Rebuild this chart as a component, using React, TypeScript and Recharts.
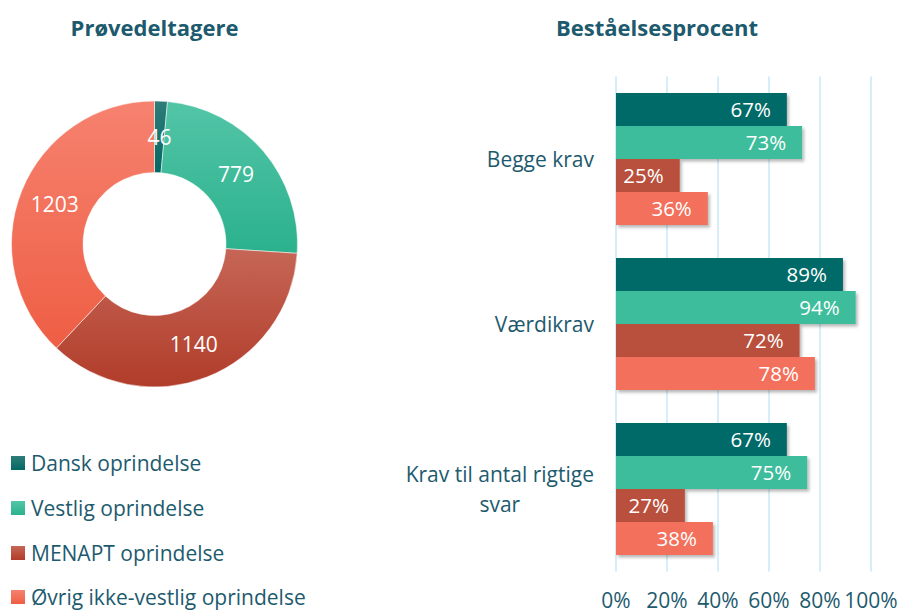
import { Bar, BarChart, CartesianGrid, Cell, LabelList, Pie, PieChart, XAxis, YAxis } from 'recharts';

// Prøvedeltagere (donut)
const origins = ['Dansk oprindelse', 'Vestlig oprindelse', 'MENAPT oprindelse', 'Øvrig ikke-vestlig oprindelse'];
const participants = [46, 779, 1140, 1203];

// Beståelsesprocent (bars)
const requirements = ['Begge krav', 'Værdikrav', 'Krav til antal rigtige svar'];
const danskPct = [67, 89, 67];
const vestligPct = [73, 94, 75];
const menaptPct = [25, 72, 27];
const ovrigPct = [36, 78, 38];
const pctTicks = [0, 20, 40, 60, 80, 100];

const colors = ['#056b67', '#3cbd9b', '#b9503e', '#f3705c'];
const gradTop = ['#2f7d79', '#53c5a7', '#c66656', '#f6826f'];
const gradBottom = ['#036864', '#2bb18d', '#b13c2a', '#ee5e44'];

const textColor = '#1d5a6e';
const font = '"Open Sans", sans-serif';
const fs = 21;

const pieData = origins.map((name, i) => ({ name, value: participants[i] }));
const barData = requirements.map((name, i) => ({
  name,
  dansk: danskPct[i],
  vestlig: vestligPct[i],
  menapt: menaptPct[i],
  ovrig: ovrigPct[i],
}));

const RADIAN = Math.PI / 180;

function PieLabel(props: any) {
  const { cx, cy, midAngle, innerRadius, outerRadius, value } = props;
  const r = (innerRadius + outerRadius) / 2;
  const x = cx + r * Math.cos(-midAngle * RADIAN);
  const y = cy + r * Math.sin(-midAngle * RADIAN);
  return (
    <text x={x} y={y} fill="#fff" fontSize={fs} fontFamily={font} textAnchor="middle" dominantBaseline="central">
      {value}
    </text>
  );
}

let measureCtx: CanvasRenderingContext2D | null = null;
function textWidth(s: string, size: number) {
  if (!measureCtx) measureCtx = document.createElement('canvas').getContext('2d');
  if (!measureCtx) return s.length * size * 0.5;
  measureCtx.font = `${size}px "Open Sans"`;
  return measureCtx.measureText(s).width;
}

function wrap(label: string, maxChars: number) {
  const words = label.split(' ');
  const lines: string[] = [];
  let cur = '';
  for (const w of words) {
    const next = cur ? `${cur} ${w}` : w;
    if (next.length > maxChars && cur) {
      lines.push(cur);
      cur = w;
    } else cur = next;
  }
  if (cur) lines.push(cur);
  return lines;
}

function CategoryTick({ x, y, payload }: any) {
  const lines = wrap(String(payload?.value ?? ''), 22);
  const lineH = 30;
  const blockW = Math.max(...lines.map((l) => textWidth(l, fs)));
  const centerX = x - blockW / 2;
  const y0 = y - ((lines.length - 1) * lineH) / 2;
  return (
    <g>
      {lines.map((l, i) => (
        <text
          key={i}
          x={lines.length > 1 ? centerX : x}
          y={y0 + i * lineH}
          textAnchor={lines.length > 1 ? 'middle' : 'end'}
          dominantBaseline="central"
          fill={textColor}
          fontSize={fs}
          fontFamily={font}
        >
          {l}
        </text>
      ))}
    </g>
  );
}

function PctTick({ x, y, payload }: any) {
  return (
    <text x={x} y={y + 20} textAnchor="middle" dominantBaseline="central" fill={textColor} fontSize={fs} fontFamily={font}>
      {`${payload.value}%`}
    </text>
  );
}

function OriginLegend() {
  return (
    <div style={{ fontFamily: font, fontSize: fs, color: textColor }}>
      {origins.map((o, i) => (
        <div key={o} style={{ display: 'flex', alignItems: 'center', height: 44.7, whiteSpace: 'nowrap' }}>
          <span
            style={{
              display: 'inline-block',
              width: 14,
              height: 14,
              marginRight: 6,
              background: `linear-gradient(${gradTop[i]}, ${gradBottom[i]})`,
            }}
          />
          {o}
        </div>
      ))}
    </div>
  );
}

const titleStyle: React.CSSProperties = {
  position: 'absolute',
  top: 12,
  fontFamily: font,
  fontWeight: 700,
  fontSize: 22,
  color: textColor,
  textAlign: 'center',
};

export default function App() {
  return (
    <div style={{ position: 'absolute', left: 0, top: 0, width: 899, height: 610, background: '#fff', overflow: 'hidden' }}>
      <div style={{ ...titleStyle, left: 0, width: 309 }}>Prøvedeltagere</div>
      <div style={{ ...titleStyle, left: 520, width: 274 }}>Beståelsesprocent</div>

      <div style={{ position: 'absolute', left: 0, top: 0 }}>
        <PieChart width={320} height={400} margin={{ top: 0, right: 0, bottom: 0, left: 0 }}>
          <defs>
            {colors.map((c, i) => (
              <linearGradient key={c} id={`pg${i}`} x1="0" y1="0" x2="0" y2="1">
                <stop offset="0%" stopColor={gradTop[i]} />
                <stop offset="100%" stopColor={gradBottom[i]} />
              </linearGradient>
            ))}
          </defs>
          <Pie
            data={pieData}
            dataKey="value"
            nameKey="name"
            cx={154.5}
            cy={244}
            innerRadius={71.5}
            outerRadius={143}
            startAngle={90}
            endAngle={-270}
            stroke="#fff"
            strokeWidth={0.5}
            label={PieLabel}
            labelLine={false}
            isAnimationActive={false}
          >
            {pieData.map((d, i) => (
              <Cell key={d.name} fill={`url(#pg${i})`} />
            ))}
          </Pie>
        </PieChart>
      </div>

      <div style={{ position: 'absolute', left: 11, top: 441 }}>
        <OriginLegend />
      </div>

      <div style={{ position: 'absolute', left: 380, top: 0 }}>
        <BarChart
          layout="vertical"
          width={519}
          height={610}
          data={barData}
          margin={{ top: 76.5, right: 28, bottom: 0, left: 0 }}
          barCategoryGap="10%"
          barGap={0}
        >
          <defs>
            <filter id="barShadow" x="-5%" y="-20%" width="115%" height="160%">
              <feDropShadow dx={2} dy={2.5} stdDeviation={1.8} floodColor="#000" floodOpacity={0.28} />
            </filter>
          </defs>
          <CartesianGrid horizontal={false} stroke="#c8e8f6" strokeWidth={1.5} />
          <XAxis
            type="number"
            domain={[0, 100]}
            ticks={pctTicks}
            axisLine={false}
            tickLine={false}
            height={38.5}
            tick={<PctTick />}
            interval={0}
          />
          <YAxis
            type="category"
            dataKey="name"
            width={236}
            axisLine={false}
            tickLine={false}
            tick={<CategoryTick />}
            tickMargin={16}
          />
          {(['dansk', 'vestlig', 'menapt', 'ovrig'] as const).map((k, i) => (
            <Bar key={k} dataKey={k} fill={colors[i]} isAnimationActive={false} style={{ filter: 'url(#barShadow)' }}>
              <LabelList
                dataKey={k}
                position="insideRight"
                offset={16}
                fill="#fff"
                fontSize={20.5}
                fontFamily={font}
                formatter={(v: any) => `${v}%`}
              />
            </Bar>
          ))}
        </BarChart>
      </div>
    </div>
  );
}
